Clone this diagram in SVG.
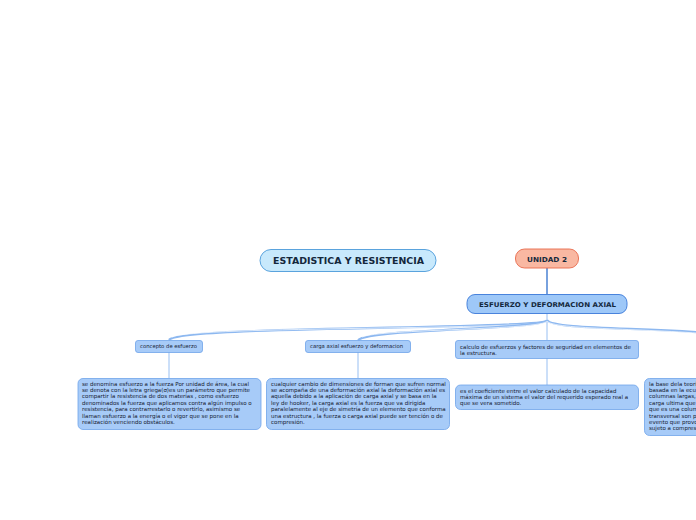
<svg xmlns="http://www.w3.org/2000/svg" width="696" height="520" viewBox="0 0 696 520">
<style>
.t{font-family:"DejaVu Sans",Verdana,sans-serif;font-size:5.5px;fill:#161a30}
.s{font-family:"DejaVu Sans",Verdana,sans-serif;font-size:5.3px;fill:#161a30}
.b{font-family:"DejaVu Sans",Verdana,sans-serif;font-weight:bold;fill:#14283c}
.n{fill:#a7cbf8;stroke:#6fa3ea;stroke-width:0.8}
.c{fill:none;stroke:#8db8f0;stroke-width:2.2}
.ci{fill:none;stroke:#ffffff;stroke-width:0.7}
.v{fill:none;stroke:#8db8f0;stroke-width:0.9}
</style>
<rect width="696" height="520" fill="#ffffff"/>
<g id="connectors">
<line x1="547" y1="268" x2="547" y2="294" stroke="#2f6fcc" stroke-width="1.3"/>
<line x1="547" y1="313" x2="547" y2="340" class="v"/>
<path class="c" d="M547,320 C547,330 180,325 169,340"/>
<path class="ci" d="M547,321 C547,330 190,326 172,337"/>
<path class="c" d="M547,320 C545,330 372,328 358,340"/>
<path class="ci" d="M547,321 C545,330 378,329 362,337"/>
<path class="c" d="M547,320 C552,330 650,327 720,334"/>
<path class="ci" d="M547,321 C552,330 650,328 720,335"/>
<line x1="169" y1="352" x2="169" y2="378" class="v"/>
<line x1="358" y1="352" x2="358" y2="378" class="v"/>
<line x1="547" y1="358" x2="547" y2="385" class="v"/>
</g>
<g id="n-estadistica">
<rect x="260" y="249.5" width="176" height="22" rx="11" fill="#c8e9fc" stroke="#4b9ad9" stroke-width="0.9"/>
<text x="273" y="263.8" class="b" font-size="8.4" textLength="151" lengthAdjust="spacingAndGlyphs">ESTADISTICA Y RESISTENCIA</text>
</g>
<g id="n-unidad2">
<rect x="515.5" y="249" width="63" height="19" rx="9" fill="#f9b8a2" stroke="#e8694b" stroke-width="0.9"/>
<text x="527" y="261.5" class="b" font-size="6.8" textLength="40" lengthAdjust="spacingAndGlyphs">UNIDAD 2</text>
</g>
<g id="n-esfuerzo">
<rect x="467" y="294.5" width="160" height="19" rx="8" fill="#9ec8f8" stroke="#3a78d8" stroke-width="0.9"/>
<text x="479" y="306.8" class="b" font-size="6.6" textLength="137" lengthAdjust="spacingAndGlyphs">ESFUERZO Y DEFORMACION AXIAL</text>
</g>
<g id="n-concepto">
<rect x="135.5" y="340.5" width="67" height="12" rx="2.5" class="n"/>
<text x="140" y="348.3" class="s">concepto de esfuerzo</text>
</g>
<g id="n-concepto-text">
<rect x="78" y="378.5" width="183" height="51" rx="5" class="n"/>
<text class="t">
<tspan x="82" y="385.5">se denomina esfuerzo a la fuerza Por unidad de área, la cual</tspan>
<tspan x="82" y="391.9">se denota con la letra griega(σ)es un parámetro que permite</tspan>
<tspan x="82" y="398.3">compartir la resistencia de dos materias , como esfuerzo</tspan>
<tspan x="82" y="404.7">denominados la fuerza que aplicamos contra algún impulso o</tspan>
<tspan x="82" y="411.1">resistencia, para contrarrestarlo o revertirlo, asimismo se</tspan>
<tspan x="82" y="417.5">llaman esfuerzo a la energía o el vigor que se pone en la</tspan>
<tspan x="82" y="423.9">realización venciendo obstáculos.</tspan>
</text>
</g>
<g id="n-carga">
<rect x="305.5" y="340.5" width="105" height="12" rx="2.5" class="n"/>
<text x="310" y="348.3" class="s">carga axial esfuerzo y deformacion</text>
</g>
<g id="n-carga-text">
<rect x="266.5" y="378.5" width="183" height="51" rx="5" class="n"/>
<text class="t">
<tspan x="271" y="385.5">cualquier cambio de dimensiones de forman que sufren normal</tspan>
<tspan x="271" y="391.9">se acompaña de una deformación axial la deformación axial es</tspan>
<tspan x="271" y="398.3">aquella debido a la aplicación de carga axial y se basa en la</tspan>
<tspan x="271" y="404.7">ley de hooker, la carga axial es la fuerza que va dirigida</tspan>
<tspan x="271" y="411.1">paralelamente al eje de simetría de un elemento que conforma</tspan>
<tspan x="271" y="417.5">una estructura , la fuerza o carga axial puede ser tención o de</tspan>
<tspan x="271" y="423.9">compresión.</tspan>
</text>
</g>
<g id="n-calculo">
<rect x="455.5" y="340.5" width="183" height="18" rx="2.5" class="n"/>
<text class="t">
<tspan x="460" y="348.5">calculo de esfuerzos y factores de seguridad en elementos de</tspan>
<tspan x="460" y="354.6">la estructura.</tspan>
</text>
</g>
<g id="n-calculo-text">
<rect x="455.5" y="385" width="183" height="24.5" rx="5" class="n"/>
<text class="t">
<tspan x="460" y="392.6">es el coeficiente entre el valor calculado de la capacidad</tspan>
<tspan x="460" y="398.8">máxima de un sistema el valor del requerido esperado real a</tspan>
<tspan x="460" y="405">que se vera sometido.</tspan>
</text>
</g>
<g id="n-right-text">
<rect x="644.5" y="378.5" width="80" height="57" rx="5" class="n"/>
<text class="t">
<tspan x="649" y="385.5">la base dela teori</tspan>
<tspan x="649" y="391.9">basada en la ecu</tspan>
<tspan x="649" y="398.3">columnas largas,</tspan>
<tspan x="649" y="404.7">carga ultima que</tspan>
<tspan x="649" y="411.1">que es una colum</tspan>
<tspan x="649" y="417.5">transversal son pe</tspan>
<tspan x="649" y="423.9">evento que provo</tspan>
<tspan x="649" y="430.3">sujeto a compres</tspan>
</text>
</g>
</svg>
